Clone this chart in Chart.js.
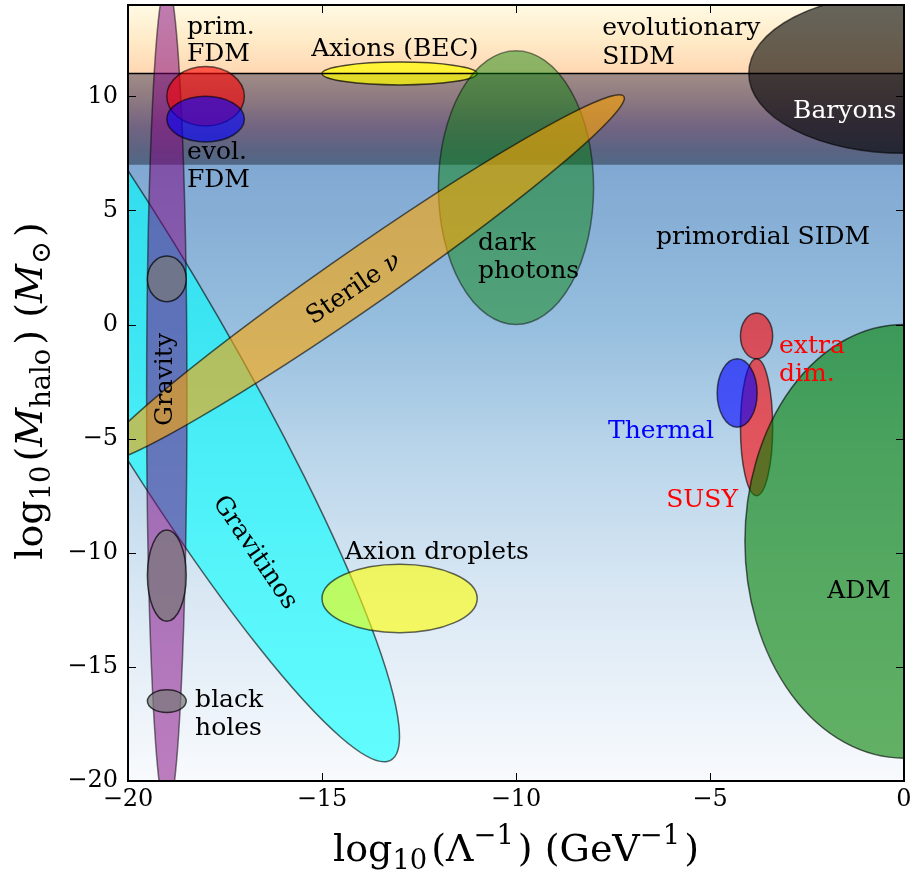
<!DOCTYPE html>
<html>
<head>
<meta charset="utf-8">
<script src="https://cdn.jsdelivr.net/npm/chart.js@4.4.1/dist/chart.umd.min.js"></script>
<style>
  html, body { margin: 0; padding: 0; background: #fff; }
</style>
</head>
<body>
<canvas id="dm-chart" width="910" height="871" style="width:910px;height:871px"></canvas>
<script>
// dark matter candidate regions, in data units (centre, full width/height, angle in data space)
const regionNames  = ['Baryons', 'Axions (BEC)', 'dark photons', 'Gravitinos', 'Gravity', 'Gravity (2)', 'Gravity (-11)', 'black holes',
                      'Sterile nu', 'prim. FDM', 'evol. FDM', 'Axion droplets', 'extra dim.', 'SUSY', 'Thermal', 'ADM'];
const regionX      = [0,    -13,  -10, -19.7, -19,  -19, -19,  -19,   -14, -18, -18, -13,  -3.8, -3.8, -4.3, 0];
const regionY      = [11,    11,    6,  -0.4, -3.2,   2, -11, -16.5,    2,  10,   9, -12,  -0.5, -4.5,   -3, -9.5];
const regionWidth  = [8,      4,    4,  39.6, 1.04,   1,   1,    1,    21,   2,   2,   4,  0.83, 0.83, 1.03, 8.2];
const regionHeight = [7,      1,   12,  4.3,  36.4,   2,   4,    1,     2, 2.6,   2,   3,     2,    6,    3, 19];
const regionAngle  = [0,      0,    0, -71.2,    0,   0,   0,    0,    50,   0,   0,   0,     0,    0,    0, 0];

const xTicks = [-20, -15, -10, -5, 0];
const yTicks = [-20, -15, -10, -5, 0, 5, 10];
const splitLevel = 11; // horizontal line log10(M) = 11

const regionStyle = {
  'Baryons':        ['0,0,0', 0.6],
  'Axions (BEC)':   ['255,255,0', 0.7],
  'dark photons':   ['0,128,0', 0.45],
  'Gravitinos':     ['0,255,255', 0.6],
  'Gravity':        ['128,0,128', 0.5],
  'Gravity (2)':    ['120,120,120', 0.7],
  'Gravity (-11)':  ['120,120,120', 0.7],
  'black holes':    ['120,120,120', 0.7],
  'Sterile nu':     ['255,165,0', 0.6],
  'prim. FDM':      ['255,0,0', 0.6],
  'evol. FDM':      ['0,0,255', 0.6],
  'Axion droplets': ['255,255,0', 0.6],
  'extra dim.':     ['255,0,0', 0.6],
  'SUSY':           ['255,0,0', 0.6],
  'Thermal':        ['0,0,255', 0.6],
  'ADM':            ['0,128,0', 0.6]
};

const FONT = '"DejaVu Serif", "Liberation Serif", serif';

// labels placed in data coordinates
const labels = [
  { segs: [{ t: 'prim.' }], x: -18.48, y: 12.72 },
  { segs: [{ t: 'FDM' }], x: -18.48, y: 11.54 },
  { segs: [{ t: 'evol.' }], x: -18.48, y: 7.24 },
  { segs: [{ t: 'FDM' }], x: -18.48, y: 6.01 },
  { segs: [{ t: 'Axions (BEC)' }], x: -15.28, y: 11.75 },
  { segs: [{ t: 'evolutionary' }], x: -7.78, y: 12.68 },
  { segs: [{ t: 'SIDM' }], x: -7.78, y: 11.40 },
  { segs: [{ t: 'Baryons' }], x: -2.86, y: 9.04, color: '#fff' },
  { segs: [{ t: 'primordial SIDM' }], x: -6.39, y: 3.51 },
  { segs: [{ t: 'dark' }], x: -10.98, y: 3.25 },
  { segs: [{ t: 'photons' }], x: -10.98, y: 2.02 },
  { segs: [{ t: 'Axion droplets' }], x: -14.41, y: -10.26 },
  { segs: [{ t: 'black' }], x: -18.27, y: -16.75 },
  { segs: [{ t: 'holes' }], x: -18.27, y: -17.98 },
  { segs: [{ t: 'Thermal' }], x: -7.63, y: -4.96, color: '#0000ff' },
  { segs: [{ t: 'SUSY' }], x: -6.13, y: -7.98, color: '#ff0000' },
  { segs: [{ t: 'extra' }], x: -3.22, y: -1.23, color: '#ff0000' },
  { segs: [{ t: 'dim.' }], x: -3.22, y: -2.48, color: '#ff0000' },
  { segs: [{ t: 'ADM' }], x: -1.98, y: -11.97 },
  { segs: [{ t: 'Gravity' }], x: -18.87, y: -2.41, align: 'center', rot: -90 },
  { segs: [{ t: 'Gravitinos' }], x: -16.68, y: -9.94, align: 'center', rot: 55.8, mid: true },
  { segs: [{ t: 'Sterile ' }, { t: 'ν', it: true }], x: -14.21, y: 1.64, align: 'center', rot: -34.2, mid: true }
];

function fmtTick(v) {
  return v < 0 ? '\u2212' + Math.abs(v) : String(v);
}

function drawRich(ctx, segs, x, y, size, opts) {
  opts = opts || {};
  ctx.save();
  ctx.translate(x, y);
  ctx.rotate((opts.rot || 0) * Math.PI / 180);
  ctx.fillStyle = opts.color || '#000';
  ctx.textBaseline = 'alphabetic';
  ctx.textAlign = 'left';
  const gap = opts.gap || 0;
  const parts = segs.map(s => {
    const small = s.sub || s.sup;
    const sz = small ? size * 0.72 : size;
    const font = (s.it ? 'italic ' : '') + sz + 'px ' + FONT;
    ctx.font = font;
    const dy = s.sub ? size * 0.2 : (s.sup ? -size * 0.45 : 0);
    return { t: s.t, font, dy, w: ctx.measureText(s.t).width + (small ? gap : 0) };
  });
  const total = parts.reduce((a, p) => a + p.w, 0);
  let cx = opts.align === 'center' ? -total / 2 : (opts.align === 'right' ? -total : 0);
  const base = opts.mid ? size * 0.36 : 0;
  parts.forEach(p => {
    ctx.font = p.font;
    ctx.fillText(p.t, cx, p.dy + base);
    cx += p.w;
  });
  ctx.restore();
}

function bandGradient(ctx, ys, stops, top, bottom) {
  const y0 = ys.getPixelForValue(top), y1 = ys.getPixelForValue(bottom);
  const g = ctx.createLinearGradient(0, y0, 0, y1);
  stops.forEach(s => g.addColorStop((ys.getPixelForValue(s[0]) - y0) / (y1 - y0), s[1]));
  return g;
}

function drawEllipse(ctx, xs, ys, i) {
  const px = xs.getPixelForValue(regionX[i]);
  const py = ys.getPixelForValue(regionY[i]);
  const sx = xs.getPixelForValue(regionX[i] + 1) - px;
  const sy = ys.getPixelForValue(regionY[i] + 1) - py;
  const st = regionStyle[regionNames[i]];
  ctx.save();
  ctx.beginPath();
  ctx.translate(px, py);
  ctx.scale(sx, sy);
  ctx.rotate(regionAngle[i] * Math.PI / 180);
  ctx.ellipse(0, 0, regionWidth[i] / 2, regionHeight[i] / 2, 0, 0, 2 * Math.PI);
  ctx.restore();
  ctx.fillStyle = 'rgba(' + st[0] + ',' + st[1] + ')';
  ctx.fill();
  ctx.strokeStyle = 'rgba(0,0,0,' + st[1] + ')';
  ctx.lineWidth = 1.5;
  ctx.stroke();
}

const regionsPlugin = {
  id: 'regions',
  beforeDatasetsDraw(chart) {
    const { ctx, chartArea: a, scales: { x: xs, y: ys } } = chart;
    ctx.save();
    ctx.beginPath();
    ctx.rect(a.left, a.top, a.right - a.left, a.bottom - a.top);
    ctx.clip();

    // background: blue fade, dark band 7..11, warm band above 11
    ctx.fillStyle = bandGradient(ctx, ys, [
      [7, 'rgb(128,168,210)'], [0, 'rgb(150,190,222)'], [-5.5, 'rgb(185,213,234)'],
      [-12, 'rgb(218,232,244)'], [-20, 'rgb(248,250,253)']], 7, -20);
    ctx.fillRect(a.left, a.top, a.right - a.left, a.bottom - a.top);
    const y7 = ys.getPixelForValue(7), y11 = ys.getPixelForValue(splitLevel);
    ctx.fillStyle = bandGradient(ctx, ys, [
      [11, 'rgb(160,140,135)'], [9.8, 'rgb(140,120,128)'], [8.7, 'rgb(115,100,130)'],
      [7.6, 'rgb(90,100,130)'], [7, 'rgb(80,105,135)']], 11, 7);
    ctx.fillRect(a.left, y11, a.right - a.left, y7 - y11);
    ctx.fillStyle = bandGradient(ctx, ys, [
      [14, 'rgb(255,250,228)'], [12.5, 'rgb(255,235,200)'], [11, 'rgb(255,215,178)']], 14, 11);
    ctx.fillRect(a.left, a.top, a.right - a.left, y11 - a.top);

    regionNames.forEach((name, i) => {
      drawEllipse(ctx, xs, ys, i);
      if (name === 'Axions (BEC)') {
        ctx.beginPath();
        ctx.moveTo(a.left, y11);
        ctx.lineTo(a.right, y11);
        ctx.strokeStyle = '#000';
        ctx.lineWidth = 1.5;
        ctx.stroke();
      }
    });

    labels.forEach(l => {
      drawRich(ctx, l.segs, xs.getPixelForValue(l.x), ys.getPixelForValue(l.y), 25,
        { align: l.align, rot: l.rot, color: l.color, mid: l.mid });
    });
    ctx.restore();
  },
  afterDraw(chart) {
    const { ctx, chartArea: a, scales: { x: xs, y: ys } } = chart;
    ctx.save();
    ctx.strokeStyle = '#000';
    ctx.lineWidth = 1;
    ctx.beginPath();
    xTicks.slice(1, -1).forEach(v => {
      const p = Math.round(xs.getPixelForValue(v)) + 0.5;
      ctx.moveTo(p, a.bottom); ctx.lineTo(p, a.bottom - 8);
      ctx.moveTo(p, a.top); ctx.lineTo(p, a.top + 8);
    });
    yTicks.slice(1).forEach(v => {
      const p = Math.round(ys.getPixelForValue(v)) + 0.5;
      ctx.moveTo(a.left, p); ctx.lineTo(a.left + 8, p);
      ctx.moveTo(a.right, p); ctx.lineTo(a.right - 8, p);
    });
    ctx.stroke();
    ctx.lineWidth = 2;
    ctx.strokeRect(a.left, a.top, a.right - a.left, a.bottom - a.top);

    // axis titles with sub/superscripts
    drawRich(ctx, [{ t: 'log' }, { t: '10', sub: true }, { t: '(Λ' }, { t: '\u22121', sup: true },
                   { t: ') (GeV' }, { t: '\u22121', sup: true }, { t: ')' }],
      (a.left + a.right) / 2, 861, 38, { align: 'center', gap: 4 });
    drawRich(ctx, [{ t: 'log' }, { t: '10', sub: true }, { t: '(' }, { t: 'M', it: true }, { t: 'halo', sub: true },
                   { t: ') (' }, { t: 'M', it: true }, { t: '⊙', sub: true }, { t: ')' }],
      42, 391, 38, { align: 'center', rot: -90, gap: 4 });
    ctx.restore();
  }
};

const tickFont = { family: 'DejaVu Serif', size: 24 };

new Chart(document.getElementById('dm-chart'), {
  type: 'scatter',
  data: {
    datasets: [{
      label: 'regions',
      data: regionX.map((x, i) => ({ x: x, y: regionY[i] })),
      pointRadius: 0,
      pointHoverRadius: 0
    }]
  },
  options: {
    responsive: false,
    animation: false,
    devicePixelRatio: 1,
    layout: { padding: { top: 5, right: 6, left: 0, bottom: 0 } },
    plugins: { legend: { display: false }, tooltip: { enabled: false } },
    scales: {
      x: {
        type: 'linear', min: -20, max: 0,
        grid: { display: false, drawTicks: false },
        border: { display: false },
        ticks: { stepSize: 5, includeBounds: false, autoSkip: false, maxRotation: 0,
                 font: tickFont, color: '#000', padding: 4, callback: fmtTick },
        afterFit: s => { s.height = 90; s.paddingLeft = 0; s.paddingRight = 0; }
      },
      y: {
        type: 'linear', min: -20, max: 14,
        grid: { display: false, drawTicks: false },
        border: { display: false },
        ticks: { stepSize: 5, includeBounds: false, autoSkip: false,
                 font: tickFont, color: '#000', padding: 10, callback: fmtTick },
        afterFit: s => { s.width = 128; s.paddingTop = 0; s.paddingBottom = 0; }
      }
    }
  },
  plugins: [regionsPlugin]
});
</script>
</body>
</html>
